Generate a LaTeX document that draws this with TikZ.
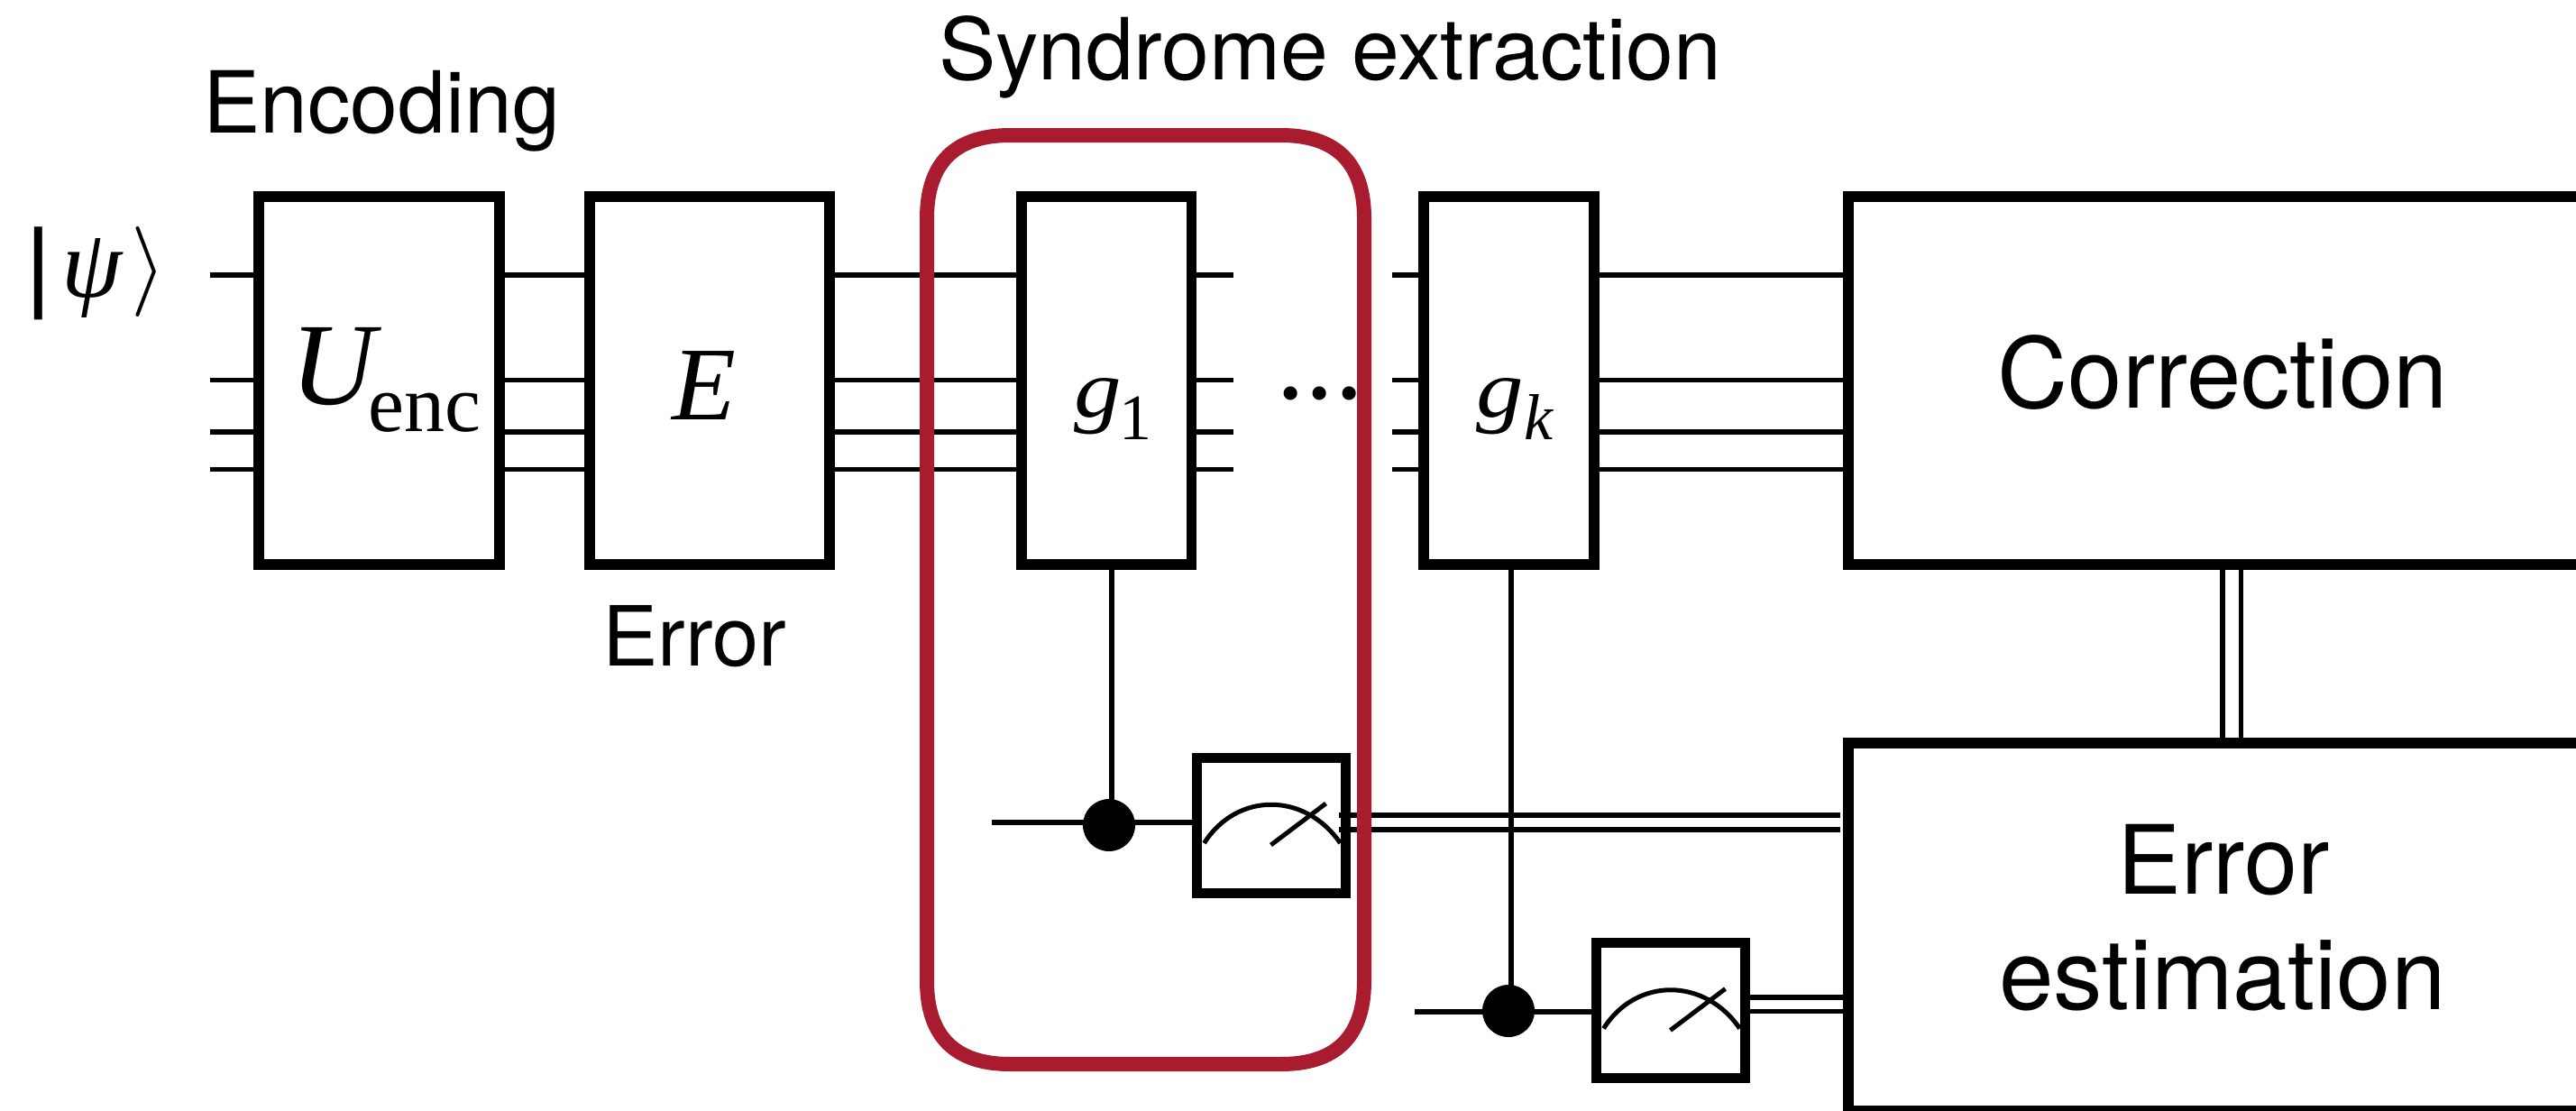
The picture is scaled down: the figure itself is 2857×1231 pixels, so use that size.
\documentclass[tikz,border=0pt]{standalone}
\usepackage{fontspec}
\setmainfont{TeX Gyre Heros}
\newfontfamily\tms{Liberation Serif}
\newfontfamily\lsans{Liberation Sans}
\newcommand\fsz[1]{\fontsize{#1}{#1}\selectfont}
\definecolor{synred}{HTML}{A91B2E}
\tikzset{
  x=0.5pt,y=-0.5pt,
  wire/.style={line width=2.75pt},
  gatebox/.style={draw,fill=white,line width=5.75pt,inner sep=0,outer sep=0,rectangle},
  meterbox/.style={draw,fill=white,line width=5.5pt,inner sep=0,outer sep=0,rectangle,minimum width=82.5pt,minimum height=75pt},
  ctrl/.style={circle,fill=black,inner sep=0,outer sep=0,minimum size=29pt},
  lab/.style={inner sep=0,outer sep=0,anchor=base},
  labw/.style={inner sep=0,outer sep=0,anchor=base west},
  needle/.style={line width=2.5pt},
}
\begin{document}
\begin{tikzpicture}
\useasboundingbox (0,0) rectangle (2857,1231);
\clip (0,0) rectangle (2857,1231);
% wire rows and free ends
\coordinate (r1) at (0,305);
\coordinate (r2) at (0,421.5);
\coordinate (r3) at (0,479);
\coordinate (r4) at (0,520.6);
\coordinate (s0) at (233,0);
\coordinate (s1) at (1368,0);
\coordinate (s2) at (1544,0);
\coordinate (a1) at (1100,912);
\coordinate (a2) at (1569,1122);
% gates
\node[gatebox,minimum width=133.5pt,minimum height=204pt] (enc) at (420.5,422) {};
\node[gatebox,minimum width=133pt,minimum height=204pt] (err) at (787,422) {};
\node[gatebox,minimum width=94.25pt,minimum height=204pt] (g1) at (1227,422) {};
\node[gatebox,minimum width=94.5pt,minimum height=204pt] (gk) at (1673.5,422) {};
\node[gatebox,minimum width=415pt,minimum height=204pt] (corr) at (2465,422) {};
\node[gatebox,minimum width=415pt,minimum height=204pt] (est) at (2465,1028) {};
% meters
\node[meterbox] (m1) at (1409.5,915) {};
\node[meterbox] (m2) at (1852.5,1120.5) {};
% wires
\foreach \r in {r1,r2,r3,r4}{
  \draw[wire] (s0 |- \r) -- (enc.west |- \r);
  \draw[wire] (enc.east |- \r) -- (err.west |- \r);
  \draw[wire] (err.east |- \r) -- (g1.west |- \r);
  \draw[wire] (g1.east |- \r) -- (s1 |- \r);
  \draw[wire] (s2 |- \r) -- (gk.west |- \r);
  \draw[wire] (gk.east |- \r) -- (corr.west |- \r);
}
% controls
\node[ctrl] (c1) at (1230,915) {};
\node[ctrl] (c2) at (1673,1121) {};
\draw[wire] ([xshift=3pt]g1.south) -- ([xshift=1.5pt]c1.center);
\draw[wire] ([xshift=1.25pt]gk.south) -- ([xshift=1.5pt]c2.center);
\draw[wire] (a1) -- (m1.west |- a1);
\draw[wire] (a2) -- (m2.west |- a2);
% meter symbols
\foreach \m in {m1,m2}{
  \begin{scope}[shift={(\m.center)}]
    \draw[needle] (-74,20) .. controls (-38,-37) and (38,-37) .. (77,20);
    \draw[needle] (0,22) -- (61,-24);
  \end{scope}
}
% classical double lines
\coordinate (d1) at (1485,904);
\coordinate (d2) at (1485,920);
\coordinate (e1) at (2041,0);
\draw[wire] (d1) -- (e1 |- d1);
\draw[wire] (d2) -- (e1 |- d2);
\coordinate (d3) at (1940,1106);
\coordinate (d4) at (1940,1121.5);
\draw[wire] (d3) -- (est.west |- d3);
\draw[wire] (d4) -- (est.west |- d4);
\coordinate (v1) at (2465,0);
\coordinate (v2) at (2485.5,0);
\draw[wire] (corr.south -| v1) -- (est.north -| v1);
\draw[wire] (corr.south -| v2) -- (est.north -| v2);
% dots
\node[lab] (dots) at (1464,478) {\tms\fsz{63.5}\textperiodcentered\kern-5pt\textperiodcentered\kern-5pt\textperiodcentered};
% texts
\node[labw] (tenc) at (225,147) {\fsz{47.5}Encoding};
\node[labw] (terr) at (668,738) {\fsz{46}Error};
\node[lab] (tsyn) at (1475,88) {\fsz{47.5}Syndrome extraction};
\node[lab] (tcorr) at (2465,452) {\fsz{54.2}Correction};
\node[lab] (te1) at (2466,991) {\fsz{53}Error};
\node[lab] (te2) at (2465,1119) {\fsz{54.4}estimation};
\node[labw] (psibar) at (28,331) {\lsans\fsz{55}|};
\node[labw] (psi) at (68,329) {\tms\itshape\fsz{54}ψ};
\node[labw] (ket) at (145,326) {\scalebox{5}{$\rangle$}};
\node[labw] (uenc) at (322,448) {\tms\itshape\fsz{65}U\kern-3.5pt\raisebox{-15pt}{\upshape\fsz{45}enc}};
\node[labw] (ee) at (745,465) {\tms\itshape\fsz{58}E};
\node[labw] (tg1) at (1191,462) {\tms\itshape\fsz{52.5}\scalebox{1}[0.87]{g}\kern-1pt\raisebox{-12.5pt}{\upshape\fsz{36}1}};
\node[labw] (tgk) at (1637,462) {\tms\itshape\fsz{52.5}\scalebox{1}[0.87]{g}\kern0.5pt\raisebox{-12.5pt}{\fsz{36}k}};
% syndrome frame
\draw[synred,line width=8pt]
  (1028,242) .. controls (1028,180) and (1060,150) .. (1120,150)
  -- (1421,150) .. controls (1481,150) and (1513,180) .. (1513,242)
  -- (1513,1088) .. controls (1513,1150) and (1481,1180) .. (1421,1180)
  -- (1120,1180) .. controls (1060,1180) and (1028,1150) .. (1028,1088)
  -- cycle;
\end{tikzpicture}
\end{document}
